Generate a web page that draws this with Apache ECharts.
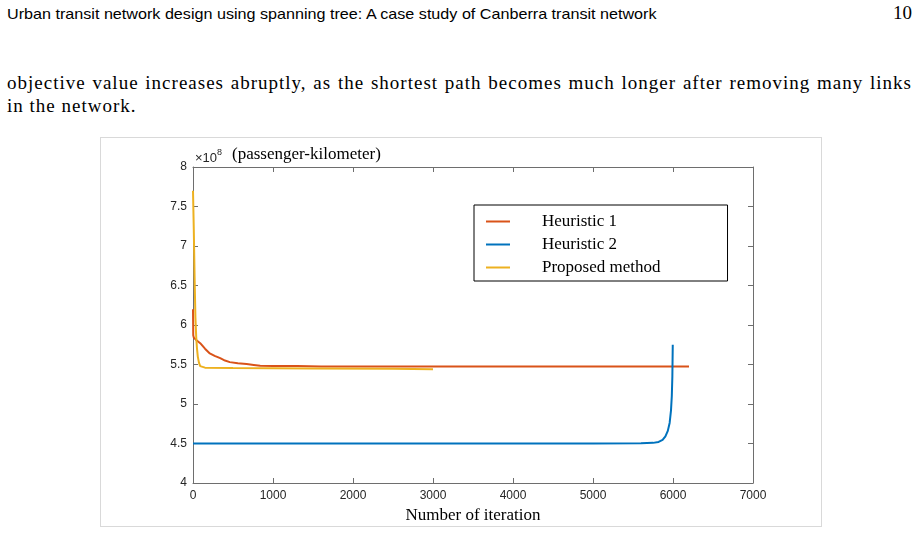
<!DOCTYPE html>
<html>
<head>
<meta charset="utf-8">
<script src="https://cdn.jsdelivr.net/npm/echarts@6/dist/echarts.min.js"></script>
<style>
  html, body { margin: 0; padding: 0; background: #fff; }
  body { width: 919px; height: 533px; position: relative; overflow: hidden; }
  .runhead { position: absolute; left: 7px; top: 5px; font-family: "Liberation Sans", sans-serif; font-size: 15px; color: #000; white-space: nowrap; transform: scaleX(1.076); transform-origin: left top; }
  .pageno { position: absolute; right: 7px; top: 2px; font-family: "Liberation Serif", serif; font-size: 19px; color: #000; }
  .line { position: absolute; left: 7px; width: 905px; font-family: "Liberation Serif", serif; font-size: 19px; letter-spacing: 1px; color: #000; white-space: nowrap; }
  .justify { text-align: justify; text-align-last: justify; }
  #chart { position: absolute; left: 100px; top: 137px; width: 720px; height: 388px; border: 1px solid #d9d9d9; }
</style>
</head>
<body>
<div class="runhead">Urban transit network design using spanning tree: A case study of Canberra transit network</div>
<div class="pageno">10</div>
<div class="line justify" style="top:72px;">objective value increases abruptly, as the shortest path becomes much longer after removing many links</div>
<div class="line" style="top:95px;">in the network.</div>
<div id="chart"></div>
<script>
// objective value (x 10^8 passenger-kilometer) against iteration count
const seriesNames = ['Heuristic 1', 'Heuristic 2', 'Proposed method'];
const seriesColors = ['#D95319', '#0072BD', '#EDB120'];

const h1Iter = [0, 3, 10, 40, 90, 150, 210, 270, 340, 400, 460, 560, 670, 760, 840, 1000, 1300, 1600, 2000, 6200];
const h1Value = [6.2, 5.87, 5.84, 5.81, 5.77, 5.70, 5.64, 5.61, 5.58, 5.55, 5.53, 5.515, 5.505, 5.495, 5.485, 5.482, 5.48, 5.476, 5.475, 5.475];

const h2Iter = [0, 1000, 3000, 5000, 5600, 5750, 5820, 5870, 5905, 5935, 5958, 5975, 5985, 5992, 5997];
const h2Value = [4.5, 4.5, 4.5, 4.5, 4.502, 4.508, 4.52, 4.545, 4.59, 4.66, 4.76, 4.92, 5.1, 5.35, 5.75];

const pmIter = [0, 10, 20, 30, 40, 50, 60, 75, 90, 110, 150, 500, 1500, 2500, 3000];
const pmValue = [7.7, 7.2, 6.6, 6.1, 5.85, 5.7, 5.6, 5.52, 5.48, 5.465, 5.46, 5.455, 5.45, 5.445, 5.44];

const xTicks = [0, 7000, 1000];   // min, max, interval
const yTicks = [4, 8, 0.5];

function zip(xs, ys) {
  return xs.map((x, i) => [x, ys[i]]);
}

const chart = echarts.init(document.getElementById('chart'));

const axisColor = '#6e6e6e';
const tickFont = { color: '#262626', fontSize: 12, fontFamily: 'Liberation Sans, Arial, sans-serif' };

function xAxisDef(pos, showLabel) {
  return {
    type: 'value', position: pos, min: xTicks[0], max: xTicks[1], interval: xTicks[2],
    axisLine: { onZero: false, lineStyle: { color: axisColor, width: 1 } },
    axisTick: { inside: true, length: 5, lineStyle: { color: axisColor } },
    splitLine: { show: false },
    axisLabel: showLabel
      ? Object.assign({ margin: 7, formatter: (v) => String(v) }, tickFont)
      : { show: false },
    name: showLabel ? 'Number of iteration' : '',
    nameLocation: 'middle', nameGap: 23,
    nameTextStyle: { color: '#000', fontSize: 17, fontFamily: 'Liberation Serif, serif' }
  };
}

function yAxisDef(pos, showLabel) {
  return {
    type: 'value', position: pos, min: yTicks[0], max: yTicks[1], interval: yTicks[2],
    axisLine: { onZero: false, lineStyle: { color: axisColor, width: 1 } },
    axisTick: { inside: true, length: 5, lineStyle: { color: axisColor } },
    splitLine: { show: false },
    axisLabel: showLabel ? Object.assign({ margin: 6 }, tickFont) : { show: false }
  };
}

const values = [zip(h1Iter, h1Value), zip(h2Iter, h2Value), zip(pmIter, pmValue)];

chart.setOption({
  animation: false,
  backgroundColor: '#fff',
  grid: { left: 92, top: 29, width: 560, height: 316, outerBoundsMode: 'none' },
  xAxis: [xAxisDef('bottom', true), xAxisDef('top', false)],
  yAxis: [yAxisDef('left', true), yAxisDef('right', false)],
  legend: {
    orient: 'vertical', left: 373, top: 67,
    backgroundColor: '#fff', borderColor: '#000', borderWidth: 1,
    padding: [8, 67, 5, 12], itemGap: 6,
    icon: 'rect', itemWidth: 24, itemHeight: 2,
    textStyle: { color: '#000', fontSize: 17, fontFamily: 'Liberation Serif, serif', padding: [0, 0, 0, 27] },
    data: seriesNames
  },
  graphic: [
    {
      type: 'text', left: 94, top: 10,
      style: {
        text: '{a|\u00d710}{b|8}',
        rich: {
          a: { fontSize: 13, fill: '#262626', fontFamily: 'Liberation Sans, sans-serif', verticalAlign: 'bottom' },
          b: { fontSize: 9, fill: '#262626', fontFamily: 'Liberation Sans, sans-serif', padding: [0, 0, 8, 0] }
        }
      }
    },
    {
      type: 'text', left: 131, top: 8,
      style: { text: '(passenger-kilometer)', fontSize: 17, fill: '#000', fontFamily: 'Liberation Serif, serif' }
    }
  ],
  series: seriesNames.map((name, i) => ({
    name: name, type: 'line', data: values[i],
    showSymbol: false, symbol: 'none',
    lineStyle: { color: seriesColors[i], width: 2 },
    itemStyle: { color: seriesColors[i] }
  }))
});
</script>
</body>
</html>
